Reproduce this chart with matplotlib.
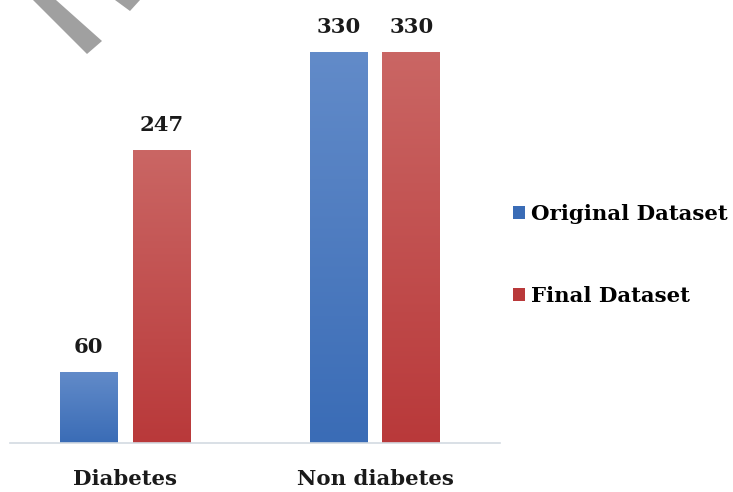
import numpy as np
import matplotlib.pyplot as plt
from matplotlib.patches import Polygon, Patch
from matplotlib.colors import LinearSegmentedColormap

categories = ['Diabetes', 'Non diabetes']
original = [60, 330]
final = [247, 330]
series_names = ['Original Dataset', 'Final Dataset']

W, H = 733, 492
fig = plt.figure(figsize=(W / 100, H / 100), dpi=100)
ax = fig.add_axes([10 / W, 49 / H, 490 / W, 443 / H])

font = dict(family='DejaVu Serif', weight='bold', color='#1a1a1a')
fs = 15.3

blue_top, blue_bot = '#628BC9', '#3A6CB6'
red_top, red_bot = '#CA6664', '#B9393A'

x = np.arange(len(categories))
width = 0.232
offset = 0.146

def gradient_bars(xpos, vals, top, bot):
    bars = ax.bar(xpos, vals, width, color=bot, linewidth=0)
    cmap = LinearSegmentedColormap.from_list('g', [bot, top])
    grad = np.linspace(0, 1, 256).reshape(-1, 1)
    for b in bars:
        x0, y0 = b.get_x(), b.get_y()
        im = ax.imshow(grad, cmap=cmap, aspect='auto', origin='lower',
                       extent=[x0, x0 + b.get_width(), y0, y0 + b.get_height()],
                       zorder=b.get_zorder() + 0.1)
        im.set_clip_path(b)
    return bars

b1 = gradient_bars(x - offset, original, blue_top, blue_bot)
b2 = gradient_bars(x + offset, final, red_top, red_bot)

for bars, vals in ((b1, original), (b2, final)):
    for b, v in zip(bars, vals):
        ax.text(b.get_x() + b.get_width() / 2, v + 13, str(v),
                ha='center', va='bottom', fontsize=fs, **font)

ax.set_xlim(-0.46, 1.5)
ax.set_ylim(0, 330 * 443 / 391)
ax.set_xticks(x)
ax.set_xticklabels(categories, fontsize=fs, **font)
ax.tick_params(axis='x', length=0, pad=19)
ax.set_yticks([])
for s in ('top', 'right', 'left'):
    ax.spines[s].set_visible(False)
ax.spines['bottom'].set_color('#D3DAE2')
ax.spines['bottom'].set_linewidth(1.2)

handles = [Patch(facecolor=blue_bot, edgecolor='none'),
           Patch(facecolor=red_bot, edgecolor='none')]
fig.legend(handles, series_names, loc='upper left',
           bbox_to_anchor=(494 / W, 1 - 185 / H), frameon=False,
           handlelength=0.55, handleheight=0.55, handletextpad=0.3,
           labelspacing=2.9, prop=dict(family='DejaVu Serif', weight='bold', size=fs))

# grey stroke fragments along the top edge
for pts in ([(33, 0), (56, 0), (102, 41), (87, 54)],
            [(115, 0), (140, 0), (130, 11)]):
    fig.add_artist(Polygon([(px / W, 1 - py / H) for px, py in pts],
                           closed=True, transform=fig.transFigure,
                           facecolor='#A0A0A0', edgecolor='none'))

fig.savefig('out.png', dpi=100)
